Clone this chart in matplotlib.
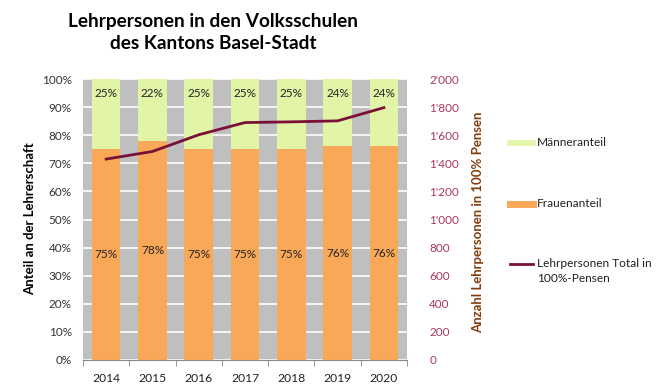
import numpy as np
import matplotlib.pyplot as plt
from matplotlib.lines import Line2D
from matplotlib.ticker import FuncFormatter, MultipleLocator

plt.rcParams['font.family'] = ['Lato', 'DejaVu Sans']

years = ['2014', '2015', '2016', '2017', '2018', '2019', '2020']
frauen = [75, 78, 75, 75, 75, 76, 76]
maenner = [25, 22, 25, 25, 25, 24, 24]
total = [1430, 1484, 1603, 1690, 1695, 1702, 1796]

c_frauen = '#F9A857'
c_maenner = '#E2F4A6'
c_line = '#7A1038'
c_right = '#A8385E'
c_rlabel = '#843C0C'

fig = plt.figure(figsize=(6.63, 3.9), dpi=100)
ax = fig.add_axes([83 / 663, 30 / 390, 324 / 663, 281 / 390])
ax.set_facecolor('#BFBFBF')

x = np.arange(len(years))
w = 0.62
ax.bar(x, frauen, w, color=c_frauen, zorder=2)
ax.bar(x, maenner, w, bottom=frauen, color=c_maenner, zorder=2)
for i in range(len(years)):
    ax.text(x[i], frauen[i] / 2, f'{frauen[i]}%', ha='center', va='center',
            fontsize=8.5, color='#222222', zorder=4)
    ax.text(x[i], 94.7, f'{maenner[i]}%', ha='center', va='center',
            fontsize=8.5, color='#222222', zorder=4)

ax.set_xlim(-0.5, len(years) - 0.5)
ax.set_ylim(0, 100)
ax.yaxis.set_major_locator(MultipleLocator(10))
ax.yaxis.set_major_formatter(FuncFormatter(lambda v, p: f'{v:.0f}%'))
ax.grid(axis='y', color='white', linewidth=1.2, zorder=1)
ax.set_axisbelow(True)
ax.set_xticks(x)
ax.set_xticklabels(years)
ax.set_xticks(np.arange(-0.5, len(years)), minor=True)
ax.tick_params(axis='x', which='major', length=0, pad=9, labelsize=8.7, labelcolor='#222222')
ax.tick_params(axis='x', which='minor', length=4, color='#888888', direction='out')
ax.tick_params(axis='y', length=0, pad=8, labelsize=8.5, labelcolor='#333333')
for s in ['top', 'right', 'left']:
    ax.spines[s].set_visible(False)
ax.spines['bottom'].set_color('#888888')

ax2 = ax.twinx()
ax2.plot(x, total, color=c_line, linewidth=2, zorder=5)
ax2.set_ylim(0, 2000)
ax2.yaxis.set_major_locator(MultipleLocator(200))
ax2.yaxis.set_major_formatter(FuncFormatter(lambda v, p: f"{int(v) // 1000}'{int(v) % 1000:03d}" if v >= 1000 else f'{int(v)}'))
ax2.tick_params(axis='y', length=0, pad=16, labelsize=8.5, labelcolor=c_right)
for s in ax2.spines.values():
    s.set_visible(False)

fig.text(0.321, 1 - 13 / 390, 'Lehrpersonen in den Volksschulen\ndes Kantons Basel-Stadt',
         ha='center', va='top', fontsize=13.7, fontweight='bold', linespacing=1.35)
fig.text(30 / 663, 1 - 219 / 390, 'Anteil an der Lehrerschaft', rotation=90,
         ha='center', va='center', fontsize=9.5, fontweight='bold')
fig.text(478 / 663, 1 - 222 / 390, 'Anzahl Lehrpersonen in 100% Pensen', rotation=90,
         ha='center', va='center', fontsize=9.5, fontweight='bold', color=c_rlabel)

# legend drawn by hand to keep Excel-like spacing
leg = [(143, c_maenner, 4, 'Männeranteil'),
       (204, c_frauen, 5, 'Frauenanteil'),
       (264, c_line, 2, 'Lehrpersonen Total in\n100%-Pensen')]
for yy, col, lw, lab in leg:
    yf = 1 - yy / 390
    fig.add_artist(Line2D([510 / 663, 533 / 663], [yf, yf], color=col, linewidth=lw,
                          transform=fig.transFigure))
    fig.text(537 / 663, yf + 6 / 390, lab, ha='left', va='top', fontsize=8.6,
             color='#222222', linespacing=1.5)

fig.savefig('out.png', dpi=100)
